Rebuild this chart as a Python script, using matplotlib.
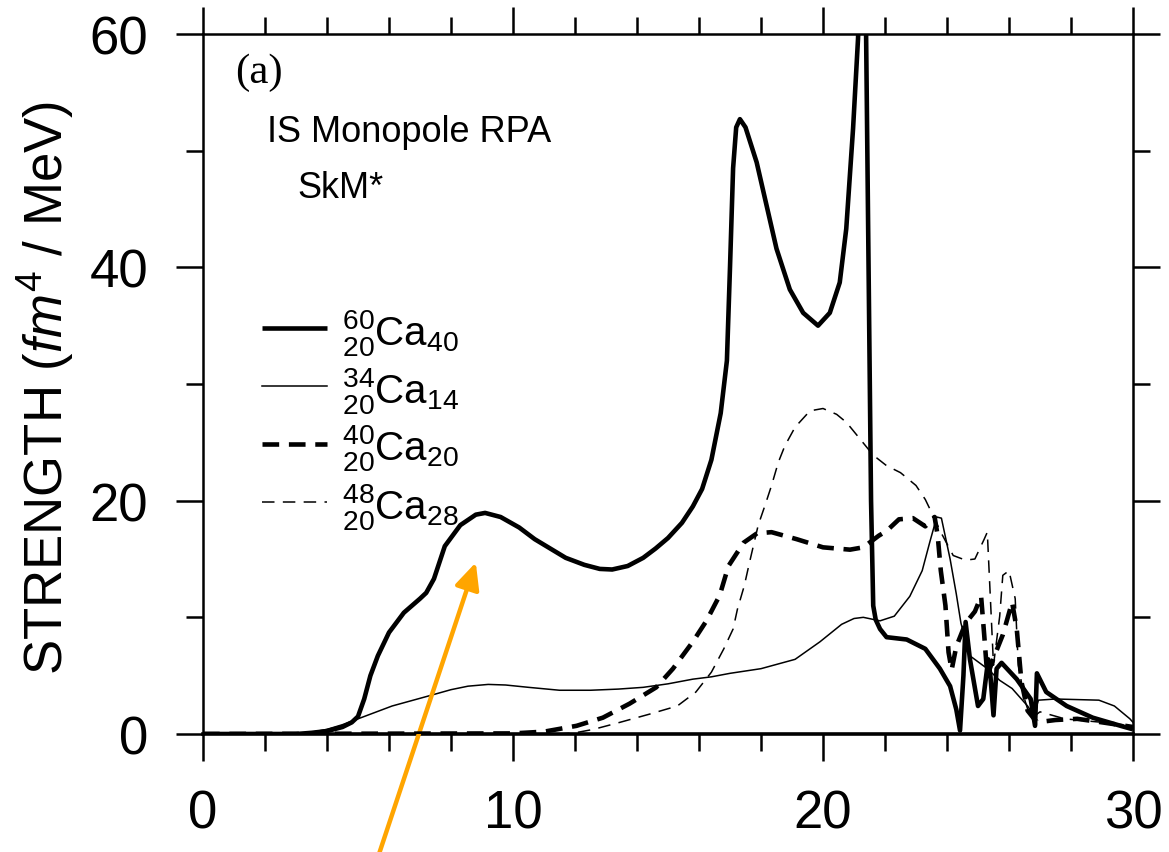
import matplotlib
matplotlib.use('Agg')
import matplotlib.pyplot as plt
from matplotlib import font_manager
from matplotlib.ticker import MultipleLocator


def pick(fams, default='DejaVu Sans'):
    for f in fams:
        try:
            font_manager.findfont(f, fallback_to_default=False)
            return f
        except Exception:
            pass
    return default


SANS = pick(['Liberation Sans', 'Arial', 'Helvetica'])
SERIF = pick(['Liberation Serif', 'Times New Roman'], 'DejaVu Serif')

plt.rcParams['font.family'] = [SANS, 'DejaVu Sans']
plt.rcParams['mathtext.fontset'] = 'custom'
plt.rcParams['mathtext.rm'] = SANS
plt.rcParams['mathtext.it'] = SANS + ':italic'
plt.rcParams['mathtext.bf'] = SANS + ':bold'
plt.rcParams['lines.scale_dashes'] = False

# ---------------- data ----------------
energy_ca60 = [0, 3.0, 3.5, 4.0, 4.5, 4.8, 5.0, 5.2, 5.4, 5.64, 6.0, 6.48, 7.0, 7.2, 7.45,
               7.8, 8.3, 8.8, 9.1, 9.6, 10.2, 10.7, 11.2, 11.7, 12.3, 12.8, 13.2, 13.7, 14.2,
               14.6, 15.0, 15.45, 15.8, 16.1, 16.4, 16.7, 16.9, 17.0, 17.1, 17.2, 17.32, 17.5,
               17.86, 18.18, 18.5, 18.93, 19.36, 19.84, 20.22, 20.54, 20.75, 20.97, 21.13,
               21.33, 21.45, 21.55, 21.62, 21.7, 21.84, 22.05, 22.7, 23.3, 23.77, 24.1, 24.3,
               24.42, 24.53, 24.6, 24.74, 25.0, 25.17, 25.33, 25.4, 25.5, 25.6, 25.76, 26.25,
               26.7, 26.84, 26.9, 27.2, 27.86, 28.7, 29.6, 30.0]
strength_ca60 = [0, 0, 0.1, 0.25, 0.6, 1.0, 1.5, 3.0, 5.0, 6.7, 8.7, 10.4, 11.6, 12.1, 13.3,
                 16.1, 17.9, 18.8, 18.95, 18.6, 17.7, 16.7, 15.9, 15.1, 14.5, 14.15, 14.1, 14.4,
                 15.1, 15.9, 16.8, 18.1, 19.5, 21.0, 23.5, 27.5, 32.0, 40.0, 48.5, 52.0, 52.7,
                 52.0, 49.0, 45.3, 41.6, 38.1, 36.1, 35.0, 36.1, 38.7, 43.3, 51.9, 59.6, 75,
                 45, 20, 11, 9.8, 9.0, 8.3, 8.1, 7.3, 5.6, 4.1, 2.1, 0.3, 5.0, 9.6, 6.4, 2.4,
                 3.0, 6.4, 5.0, 1.6, 5.6, 6.1, 4.7, 3.0, 0.7, 5.2, 3.6, 2.4, 1.4, 0.7, 0.4]

energy_ca34 = [0, 3.0, 3.5, 4.0, 4.5, 5.0, 6.1, 7.33, 8.0, 8.55, 9.2, 9.76, 10.5, 11.5, 12.5,
               13.4, 14.2, 15.0, 15.8, 16.4, 17.0, 18.0, 19.1, 19.9, 20.6, 21.0, 21.3, 21.84,
               22.3, 22.8, 23.2, 23.45, 23.67, 23.82, 24.1, 24.3, 24.45, 24.74, 25.3, 25.7,
               26.1, 26.6, 26.8, 26.95, 27.5, 28.9, 29.4, 29.9, 30.0]
strength_ca34 = [0, 0, 0.15, 0.4, 0.8, 1.3, 2.4, 3.3, 3.8, 4.1, 4.25, 4.2, 4.0, 3.75, 3.75,
                 3.85, 4.0, 4.3, 4.7, 4.9, 5.2, 5.6, 6.4, 7.9, 9.4, 9.9, 10.0, 9.7, 10.1, 11.8,
                 14.0, 16.5, 18.6, 18.5, 15.0, 12.0, 9.5, 6.7, 5.6, 4.6, 3.9, 2.4, 1.6, 2.9,
                 3.0, 2.9, 2.4, 1.3, 1.0]

energy_ca40 = [0, 10.0, 11.0, 12.05, 12.9, 13.76, 14.62, 15.16, 15.8, 16.24, 16.67, 16.95,
               17.44, 17.87, 18.34, 19.15, 20.0, 20.87, 21.3, 21.8, 22.05, 22.45, 22.9, 23.3,
               23.6, 23.7, 23.8, 23.95, 24.05, 24.15, 24.3, 24.6, 24.9, 25.1, 25.2, 25.3,
               25.5, 25.8, 26.1, 26.25, 26.4, 26.6, 26.9, 27.5, 28.2, 29.0, 30.0]
strength_ca40 = [0, 0.05, 0.2, 0.7, 1.4, 2.6, 4.0, 5.6, 7.9, 9.7, 11.9, 14.4, 16.4, 17.2,
                 17.3, 16.7, 16.0, 15.8, 16.0, 17.0, 17.4, 18.4, 18.5, 17.8, 18.6, 17.0, 14.0,
                 11.0, 7.0, 5.5, 7.5, 9.5, 10.5, 11.8, 8.5, 5.0, 6.5, 8.5, 11.3, 9.0, 4.5, 2.0,
                 1.0, 1.2, 1.3, 1.0, 0.6]

energy_ca48 = [0, 11.5, 12.0, 12.6, 13.45, 14.4, 15.3, 15.9, 16.4, 16.8, 17.1, 17.24, 17.46,
               17.62, 17.91, 18.13, 18.34, 18.56, 18.77, 19.1, 19.58, 20.0, 20.44, 20.76,
               21.19, 21.62, 22.05, 22.5, 23.0, 23.3, 23.5, 23.8, 24.2, 24.6, 24.9, 25.2,
               25.3, 25.4, 25.5, 25.7, 25.8, 26.0, 26.2, 26.3, 26.5, 26.7, 27.0, 27.8, 29.0,
               30.0]
strength_ca48 = [0, 0, 0.1, 0.4, 1.0, 1.7, 2.4, 3.6, 5.3, 7.3, 9.0, 10.7, 12.7, 14.6, 17.9,
                 19.6, 21.3, 23.3, 24.7, 26.3, 27.7, 27.9, 27.4, 26.7, 25.3, 23.9, 23.0, 22.4,
                 21.3, 20.1, 19.0, 17.3, 15.3, 14.9, 15.0, 16.7, 17.3, 11.6, 5.9, 10.1, 13.6,
                 14.0, 11.6, 5.9, 3.0, 1.3, 1.9, 1.3, 1.0, 0.7]

legend_labels = [r'${}^{60}_{20}\mathrm{Ca}_{40}$', r'${}^{34}_{20}\mathrm{Ca}_{14}$',
                 r'${}^{40}_{20}\mathrm{Ca}_{20}$', r'${}^{48}_{20}\mathrm{Ca}_{28}$']
x_ticks = [0, 10, 20, 30]
y_ticks = [0, 20, 40, 60]

# ---------------- figure ----------------
W, H = 1169, 853
fig = plt.figure(figsize=(W / 100, H / 100), dpi=100)
L, R, T, B = 203, 1133, 35, 735
ax = fig.add_axes([L / W, 1 - B / H, (R - L) / W, (B - T) / H])

thick_solid = dict(color='black', lw=3.3, ls='-', solid_capstyle='butt', solid_joinstyle='round')
thin_solid = dict(color='black', lw=1.1, ls='-')
thick_dash = dict(color='black', lw=3.3, ls=(0, (12, 7)), dash_capstyle='butt')
thin_dash = dict(color='black', lw=1.1, ls=(0, (9, 6)), dash_capstyle='butt')
styles = [thick_solid, thin_solid, thick_dash, thin_dash]

ax.plot(energy_ca34, strength_ca34, **thin_solid, zorder=3)
ax.plot(energy_ca48, strength_ca48, **thin_dash, zorder=3)
ax.plot(energy_ca40, strength_ca40, **thick_dash, zorder=4)
ax.plot(energy_ca60, strength_ca60, **thick_solid, zorder=5)

ax.set_xlim(0, 30)
ax.set_ylim(0, 60)
ax.set_xticks(x_ticks)
ax.set_yticks(y_ticks)
ax.xaxis.set_minor_locator(MultipleLocator(2))
ax.yaxis.set_minor_locator(MultipleLocator(10))
ax.tick_params(which='both', direction='out', top=True, right=True, width=1.8)
ax.tick_params(which='major', length=19.5, pad=20, labelsize=38)
ax.tick_params(which='minor', length=12.5)
for s in ax.spines.values():
    s.set_linewidth(1.8)
ax.spines['bottom'].set_linewidth(2.6)

# legend drawn manually
row_y = [34.8, 29.8, 24.9, 19.9]
for lab, st, yy in zip(legend_labels, styles, row_y):
    ax.plot([1.9, 4.0], [yy, yy], **st, clip_on=False)
    ax.text(4.48, yy - 1.35, lab, fontsize=29, ha='left', va='baseline')

ax.text(1.03, 55.9, '(a)', family=SERIF, fontsize=31, ha='left', va='baseline')
ax.text(2.06, 50.8, 'IS Monopole RPA', fontsize=26, ha='left', va='baseline')
ax.text(3.03, 46.0, 'SkM*', fontsize=26, ha='left', va='baseline')

fig.text(46 / W, 1 - 388 / H, r'STRENGTH ($\mathit{fm}^4$ / MeV)', rotation=90,
         fontsize=38, ha='center', va='center')

# orange annotation arrow
ax.annotate('', xy=(8.8, 14.7), xycoords='data', xytext=(378, -5),
            textcoords='figure pixels', annotation_clip=False,
            arrowprops=dict(arrowstyle='-|>,head_length=1.6,head_width=0.75',
                            color='#FFA500', lw=3.2, shrinkA=0, shrinkB=0))

fig.savefig('out.png', dpi=100)
